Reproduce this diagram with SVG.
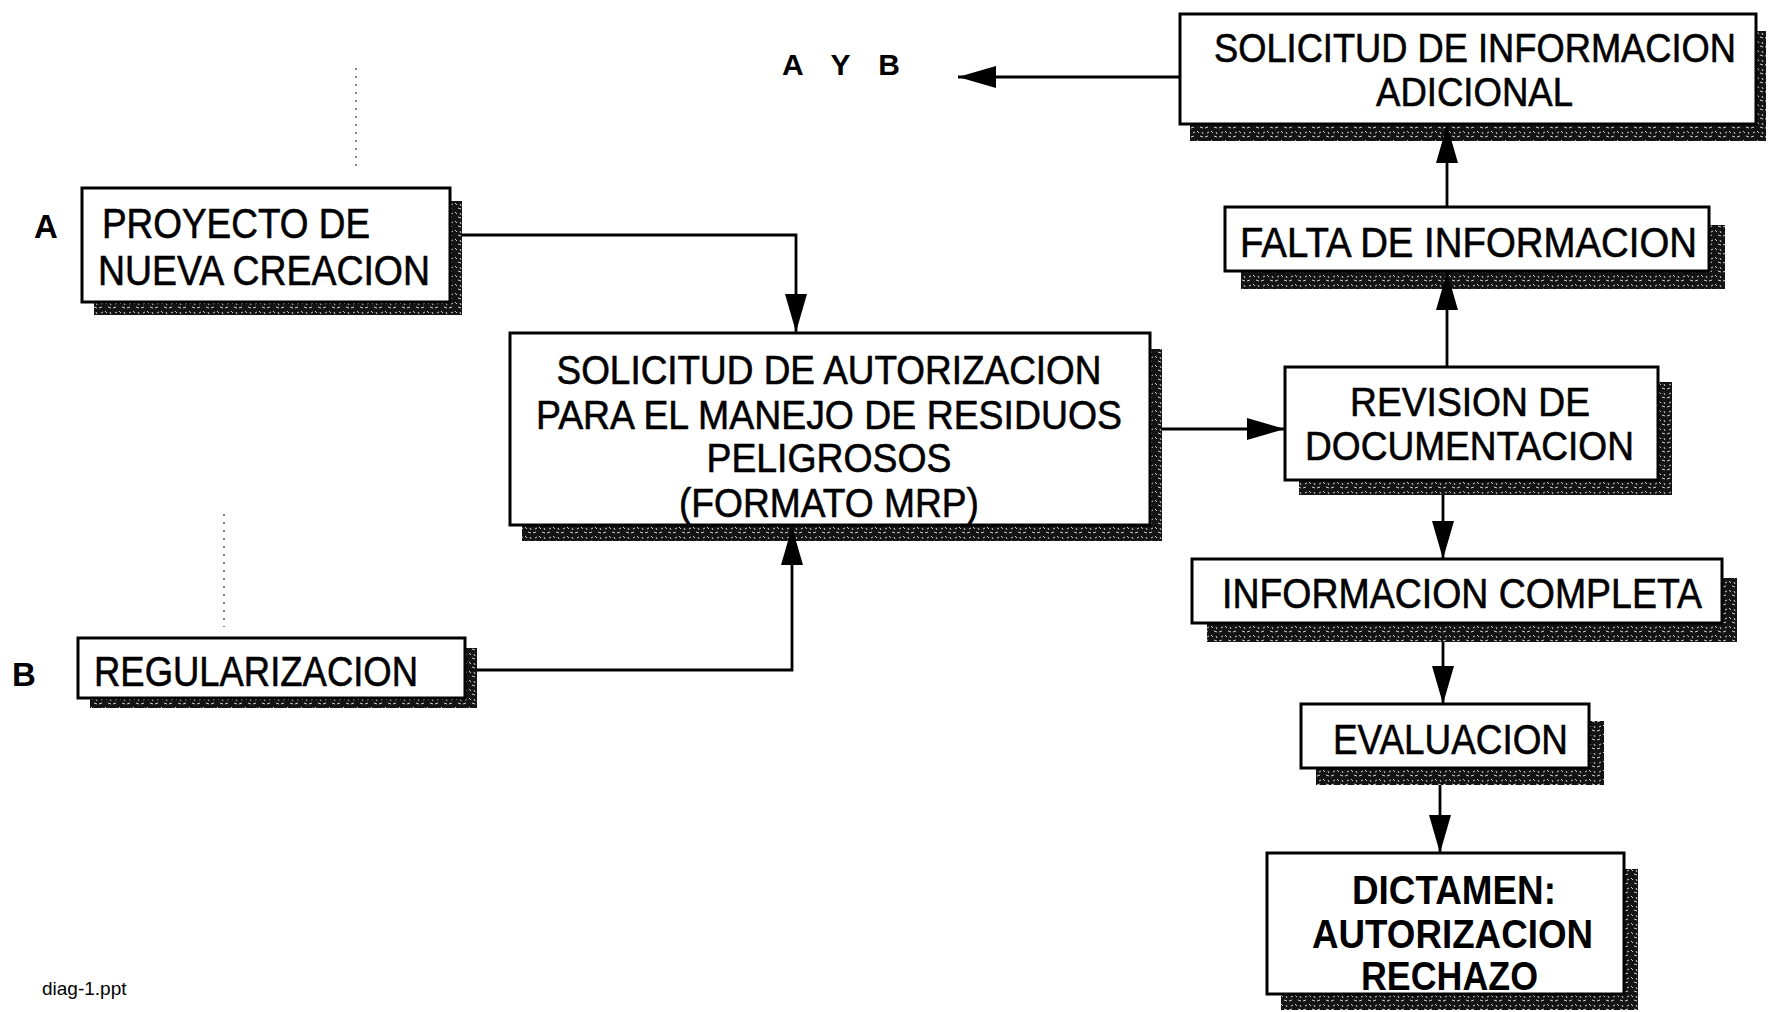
<svg xmlns="http://www.w3.org/2000/svg" width="1771" height="1012" viewBox="0 0 1771 1012">
<defs>
<pattern id="hatch" width="14" height="9" patternUnits="userSpaceOnUse">
<rect width="14" height="9" fill="#141414"/>
<path d="M1,2 l3,-1 M7,5 l2,2 M10,1 l3,1 M3,7 l2,-1 M12,6 l1,2" stroke="#d0d0d0" stroke-width="1"/>
</pattern>
<marker id="ah" viewBox="0 0 38 22" refX="38" refY="11" markerUnits="userSpaceOnUse" markerWidth="38" markerHeight="22" orient="auto">
<path d="M0,0 L38,11 L0,22 z" fill="#000"/>
</marker>
</defs>
<style>
.box{fill:#fff;stroke:#000;stroke-width:3}
.sh{fill:url(#hatch)}
.t{font-family:"Liberation Sans",Arial,Helvetica,sans-serif;font-size:43px;fill:#000;stroke:#000;stroke-width:0.6}
.m{font-size:41px}
.b{font-weight:bold;stroke-width:0}
.lbl{font-family:"Liberation Sans",Arial,Helvetica,sans-serif;font-size:33px;font-weight:bold;fill:#000}
.lbl2{font-family:"Liberation Sans",Arial,Helvetica,sans-serif;font-size:30px;font-weight:bold;fill:#000}
.con{fill:none;stroke:#000;stroke-width:2.8}
.dot{fill:none;stroke:#555;stroke-width:1.5;stroke-dasharray:2 6}
</style>
<rect width="1771" height="1012" fill="#fff"/>

<g id="node-proyecto">
<rect class="sh" x="94" y="201" width="368" height="114"/>
<rect class="box" x="82" y="188" width="368" height="114"/>
<text class="t" x="102" y="238" textLength="268" lengthAdjust="spacingAndGlyphs">PROYECTO DE</text>
<text class="t" x="98" y="285" textLength="332" lengthAdjust="spacingAndGlyphs">NUEVA CREACION</text>
</g>
<g id="label-A"><text class="lbl" x="34" y="238">A</text></g>

<g id="node-regularizacion">
<rect class="sh" x="90" y="648" width="387" height="60"/>
<rect class="box" x="78" y="638" width="387" height="60"/>
<text class="t" x="94" y="686" textLength="324" lengthAdjust="spacingAndGlyphs">REGULARIZACION</text>
</g>
<g id="label-B"><text class="lbl" x="12" y="686">B</text></g>

<g id="node-solicitud-autorizacion">
<rect class="sh" x="522" y="349" width="640" height="192"/>
<rect class="box" x="510" y="333" width="640" height="192"/>
<text class="t m" x="829" y="384" text-anchor="middle" textLength="545" lengthAdjust="spacingAndGlyphs">SOLICITUD DE AUTORIZACION</text>
<text class="t m" x="829" y="429" text-anchor="middle" textLength="586" lengthAdjust="spacingAndGlyphs">PARA EL MANEJO DE RESIDUOS</text>
<text class="t m" x="829" y="472" text-anchor="middle" textLength="245" lengthAdjust="spacingAndGlyphs">PELIGROSOS</text>
<text class="t m" x="829" y="517" text-anchor="middle" textLength="300" lengthAdjust="spacingAndGlyphs">(FORMATO MRP)</text>
</g>

<g id="node-solicitud-info">
<rect class="sh" x="1190" y="31" width="576" height="110"/>
<rect class="box" x="1180" y="14" width="576" height="110"/>
<text class="t m" x="1214" y="62" textLength="522" lengthAdjust="spacingAndGlyphs">SOLICITUD DE INFORMACION</text>
<text class="t m" x="1376" y="106" textLength="197" lengthAdjust="spacingAndGlyphs">ADICIONAL</text>
</g>

<g id="node-falta">
<rect class="sh" x="1241" y="225" width="484" height="64"/>
<rect class="box" x="1225" y="207" width="484" height="64"/>
<text class="t" x="1240" y="257" textLength="457" lengthAdjust="spacingAndGlyphs">FALTA DE INFORMACION</text>
</g>

<g id="node-revision">
<rect class="sh" x="1299" y="382" width="373" height="113"/>
<rect class="box" x="1285" y="367" width="373" height="113"/>
<text class="t m" x="1350" y="416" textLength="240" lengthAdjust="spacingAndGlyphs">REVISION DE</text>
<text class="t m" x="1305" y="460" textLength="329" lengthAdjust="spacingAndGlyphs">DOCUMENTACION</text>
</g>

<g id="node-completa">
<rect class="sh" x="1207" y="578" width="530" height="64"/>
<rect class="box" x="1192" y="559" width="530" height="64"/>
<text class="t" x="1222" y="608" textLength="480" lengthAdjust="spacingAndGlyphs">INFORMACION COMPLETA</text>
</g>

<g id="node-evaluacion">
<rect class="sh" x="1316" y="721" width="288" height="64"/>
<rect class="box" x="1301" y="704" width="288" height="64"/>
<text class="t" x="1333" y="754" textLength="235" lengthAdjust="spacingAndGlyphs">EVALUACION</text>
</g>

<g id="node-dictamen">
<rect class="sh" x="1281" y="869" width="357" height="141"/>
<rect class="box" x="1267" y="853" width="357" height="141"/>
<text class="t b m" x="1352" y="904" textLength="204" lengthAdjust="spacingAndGlyphs">DICTAMEN:</text>
<text class="t b m" x="1312" y="948" textLength="281" lengthAdjust="spacingAndGlyphs">AUTORIZACION</text>
<text class="t b m" x="1361" y="990" textLength="177" lengthAdjust="spacingAndGlyphs">RECHAZO</text>
</g>

<g id="label-AYB"><text class="lbl2" x="782" y="75" textLength="118" lengthAdjust="spacing">A Y B</text></g>

<g id="connectors">
<path class="con" d="M462,235 H796 V332" marker-end="url(#ah)"/>
<path class="con" d="M477,670 H792 V527" marker-end="url(#ah)"/>
<path class="con" d="M1162,429 H1285" marker-end="url(#ah)"/>
<path class="con" d="M1447,367 V272" marker-end="url(#ah)"/>
<path class="con" d="M1447,207 V125" marker-end="url(#ah)"/>
<path class="con" d="M1180,77 H958" marker-end="url(#ah)"/>
<path class="con" d="M1443,495 V559" marker-end="url(#ah)"/>
<path class="con" d="M1443,642 V704" marker-end="url(#ah)"/>
<path class="con" d="M1440,785 V853" marker-end="url(#ah)"/>
</g>

<g id="marks">
<path class="dot" d="M356,68 V170"/>
<path class="dot" d="M224,514 V627"/>
</g>
<text x="42" y="995" font-family="'Liberation Sans',Arial,sans-serif" font-size="19" fill="#000">diag-1.ppt</text>
</svg>
